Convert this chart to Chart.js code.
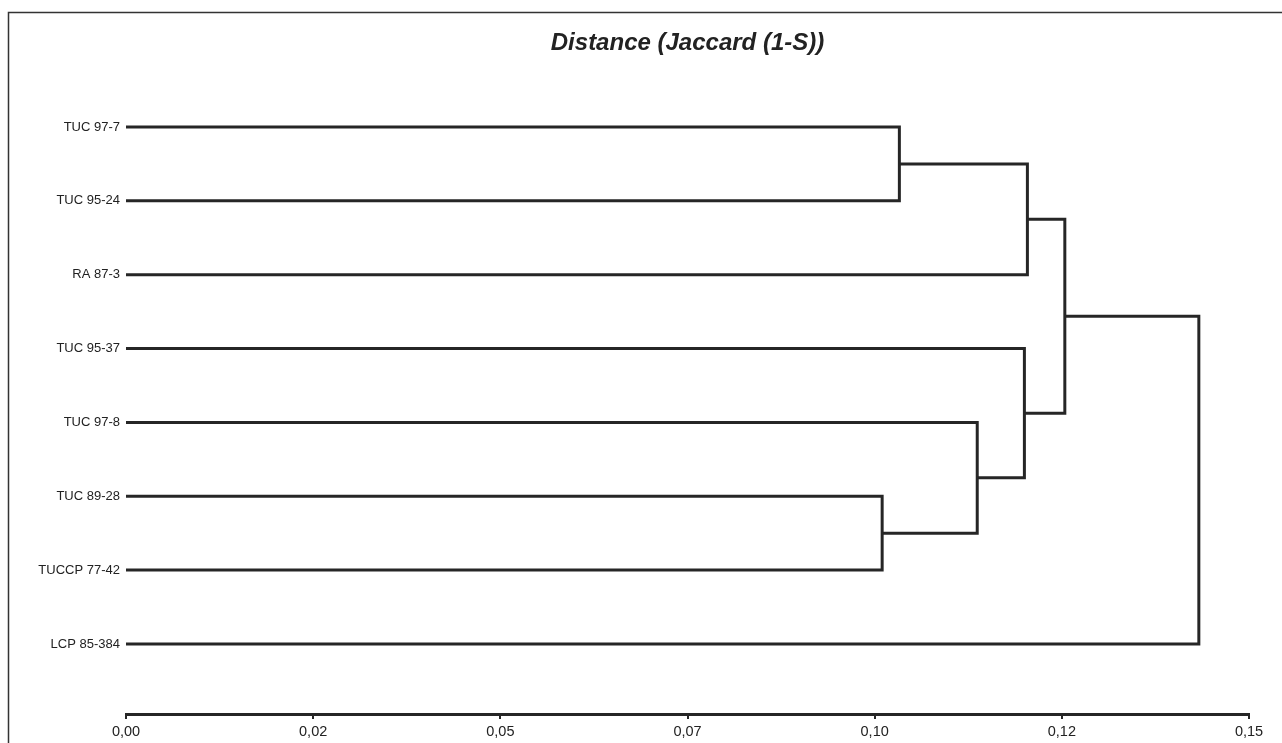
<!DOCTYPE html>
<html>
<head>
<meta charset="utf-8">
<title>Dendrogram</title>
<script src="https://cdn.jsdelivr.net/npm/chart.js@4.4.1/dist/chart.umd.min.js"></script>
<style>
  html, body { margin: 0; padding: 0; background: #fff; }
  #wrap { width: 1282px; height: 743px; position: relative; }
</style>
</head>
<body>
<div id="wrap"><canvas id="chart"></canvas></div>
<script>
'use strict';

// leaves, top to bottom
var leafLabels = ['TUC 97-7', 'TUC 95-24', 'RA 87-3', 'TUC 95-37', 'TUC 97-8', 'TUC 89-28', 'TUCCP 77-42', 'LCP 85-384'];

// merges: ids 0-7 are leaves, merge k makes cluster 8+k
var mergeLeft   = [0, 5, 8, 9, 11, 10, 13];
var mergeRight  = [1, 6, 2, 4, 3, 12, 7];
var mergeHeight = [0.1033, 0.1010, 0.1204, 0.1137, 0.1200, 0.1254, 0.1433];

// x axis
var xTickValues = [0, 0.025, 0.05, 0.075, 0.1, 0.125, 0.15];
var xTickLabels = ['0,00', '0,02', '0,05', '0,07', '0,10', '0,12', '0,15'];

var ink = '#262626';

// height and row position of every node
var nodeH = [], nodeY = [];
for (var i = 0; i < leafLabels.length; i++) { nodeH.push(0); nodeY.push(i); }

var datasets = [];
for (var k = 0; k < mergeHeight.length; k++) {
    var a = mergeLeft[k], b = mergeRight[k], h = mergeHeight[k];
    datasets.push({
        data: [
            {x: nodeH[a], y: nodeY[a]},
            {x: h, y: nodeY[a]},
            {x: h, y: nodeY[b]},
            {x: nodeH[b], y: nodeY[b]}
        ],
        borderColor: ink,
        borderWidth: 3,
        borderJoinStyle: 'miter',
        borderCapStyle: 'butt',
        pointRadius: 0,
        tension: 0,
        fill: false
    });
    nodeH.push(h);
    nodeY.push((nodeY[a] + nodeY[b]) / 2);
}

// thin frame on top and left, as in the figure
var framePlugin = {
    id: 'frame',
    beforeDraw: function(chart) {
        var ctx = chart.ctx;
        ctx.save();
        ctx.fillStyle = '#fff';
        ctx.fillRect(0, 0, chart.width, chart.height);
        ctx.strokeStyle = '#333';
        ctx.lineWidth = 1.5;
        ctx.beginPath();
        ctx.moveTo(8.5, chart.height);
        ctx.lineTo(8.5, 12.5);
        ctx.lineTo(chart.width, 12.5);
        ctx.stroke();
        ctx.restore();
    }
};

var ctx = document.getElementById('chart').getContext('2d');
var chart = new Chart(ctx, {
    type: 'line',
    data: { datasets: datasets },
    plugins: [framePlugin],
    options: {
        responsive: true,
        maintainAspectRatio: false,
        animation: false,
        parsing: false,
        layout: { padding: { left: 0, right: 33, top: 0, bottom: -2.5 } },
        plugins: {
            legend: { display: false },
            tooltip: { enabled: false },
            title: {
                display: true,
                text: 'Distance (Jaccard (1-S))',
                fullSize: false,
                color: '#222',
                font: { family: 'Liberation Sans', size: 24, weight: 'bold', style: 'italic' },
                padding: { top: 28.6, bottom: 3.1 }
            }
        },
        scales: {
            x: {
                type: 'linear',
                position: 'bottom',
                min: 0,
                max: 0.15,
                afterBuildTicks: function(scale) {
                    scale.ticks = xTickValues.map(function(v) { return {value: v}; });
                },
                ticks: {
                    autoSkip: false,
                    maxRotation: 0,
                    color: '#222',
                    padding: 6,
                    font: { family: 'Liberation Sans', size: 14.5, lineHeight: 1 },
                    callback: function(value, index) { return xTickLabels[index]; }
                },
                grid: { display: true, drawOnChartArea: false, drawTicks: true, tickLength: 5, color: ink, lineWidth: 2 },
                border: { display: true, color: ink, width: 3 }
            },
            y: {
                type: 'linear',
                position: 'left',
                reverse: true,
                min: -0.9,
                max: 7.948,
                afterBuildTicks: function(scale) {
                    scale.ticks = leafLabels.map(function(l, idx) { return {value: idx}; });
                },
                afterFit: function(scale) { scale.width = 126; },
                ticks: {
                    autoSkip: false,
                    color: '#222',
                    padding: 6,
                    font: { family: 'Liberation Sans', size: 13 },
                    callback: function(value) { return leafLabels[value]; }
                },
                grid: { display: false, drawTicks: false },
                border: { display: false }
            }
        }
    }
});
</script>
</body>
</html>
